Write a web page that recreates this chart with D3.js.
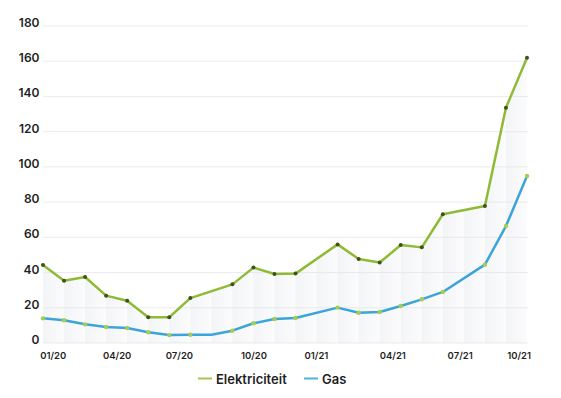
<!DOCTYPE html>
<html>
<head>
<meta charset="utf-8">
<script src="https://cdn.jsdelivr.net/npm/d3@7"></script>
<style>
  body { margin: 0; background: #fff; }
  svg { display: block; font-family: "Inter", "Noto Sans", sans-serif; }
</style>
</head>
<body>
<div id="chart"></div>
<script>
// values per slot (null = no point in that slot)
var elektriciteit = [44.3, 35.4, 37.5, 26.9, 24.0, 14.6, 14.6, 25.5, null, 33.3, 42.8, 39.2, 39.4, null,
                     56.0, 47.7, 45.7, 55.6, 54.3, 73.1, null, 77.8, 133.6, 162.0];
var gas = [14.0, 12.9, 10.6, 9.1, 8.5, 6.1, 4.5, 4.7, 4.7, 7.0, 11.2, 13.6, 14.2, null,
           20.1, 17.2, 17.6, 21.0, 24.8, 29.0, null, 44.5, 66.4, 94.8];
var tickPos = [0.46, 3.5, 6.46, 10.0, 12.97, 16.6, 19.8, 22.6];
var tickLabels = ["01/20", "04/20", "07/20", "10/20", "01/21", "04/21", "07/21", "10/21"];
var yTicks = [0, 20, 40, 60, 80, 100, 120, 140, 160, 180];
var seriesNames = ["Elektriciteit", "Gas"];

var width = 561, height = 398;
var margin = {top: 26, right: 34, bottom: 55, left: 43};

var svg = d3.select("#chart")
  .append("svg")
  .attr("width", width)
  .attr("height", height);

var x = d3.scaleLinear()
  .domain([0, elektriciteit.length - 1])
  .range([margin.left, width - margin.right]);

var y = d3.scaleLinear()
  .domain([0, 180])
  .range([height - margin.bottom, margin.top]);

function points(arr) {
  return arr.map(function (v, i) { return {i: i, v: v}; })
            .filter(function (d) { return d.v !== null; });
}
var elecPts = points(elektriciteit);
var gasPts = points(gas);

// gridlines
svg.append("g")
  .selectAll("line")
  .data(yTicks)
  .enter()
  .append("line")
  .attr("x1", x(0))
  .attr("x2", x(23) + 1)
  .attr("y1", function (d) { return y(d); })
  .attr("y2", function (d) { return y(d); })
  .attr("stroke", "#ececf0")
  .attr("stroke-width", 1);

// y labels
svg.append("g")
  .selectAll("text")
  .data(yTicks)
  .enter()
  .append("text")
  .attr("x", 39.5)
  .attr("y", function (d) { return y(d) - 3.5; })
  .attr("text-anchor", "end")
  .attr("dominant-baseline", "central")
  .attr("font-size", "12px")
  .attr("font-weight", 600)
  .attr("fill", "#1f1f24")
  .text(function (d) { return d; });

// x axis labels
var xAxis = svg.append("g")
  .attr("transform", "translate(0," + (y(0) + 13) + ")")
  .call(d3.axisBottom(x)
    .tickValues(tickPos)
    .tickSize(0)
    .tickFormat(function (d, i) { return tickLabels[i]; }));
xAxis.select(".domain").remove();
xAxis.selectAll("text")
  .attr("dy", "0.32em")
  .attr("y", 0)
  .attr("font-family", "Inter, sans-serif")
  .attr("font-size", "9.5px")
  .attr("font-weight", 600)
  .attr("fill", "#1f1f24");

// light shaded area under the electricity line, in vertical stripes
var defs = svg.append("defs");
var grad = defs.append("linearGradient")
  .attr("id", "stripe")
  .attr("x1", "0").attr("x2", "1").attr("y1", "0").attr("y2", "0");
grad.append("stop").attr("offset", "0%").attr("stop-color", "#f3f4f6");
grad.append("stop").attr("offset", "100%").attr("stop-color", "#fcfcfd");

var area = d3.area()
  .x(function (d) { return x(d.i); })
  .y0(y(0))
  .y1(function (d) { return y(d.v); });

defs.append("clipPath")
  .attr("id", "under")
  .append("path")
  .attr("d", area(elecPts));

svg.append("g")
  .attr("clip-path", "url(#under)")
  .selectAll("rect")
  .data(d3.range(elektriciteit.length - 1))
  .enter()
  .append("rect")
  .attr("x", function (d) { return x(d); })
  .attr("width", x(1) - x(0) + 0.5)
  .attr("y", margin.top)
  .attr("height", y(0) - margin.top)
  .attr("fill", "url(#stripe)");

// redraw grid faintly over the shading
svg.append("g")
  .attr("clip-path", "url(#under)")
  .selectAll("line")
  .data(yTicks)
  .enter()
  .append("line")
  .attr("x1", x(0))
  .attr("x2", x(23))
  .attr("y1", function (d) { return y(d); })
  .attr("y2", function (d) { return y(d); })
  .attr("stroke", "#e8e9ed")
  .attr("stroke-width", 1);

var line = d3.line()
  .x(function (d) { return x(d.i); })
  .y(function (d) { return y(d.v); });

var elecColor = "#8fba35", gasColor = "#3aa4db";

svg.append("path")
  .datum(gasPts)
  .attr("d", line)
  .attr("fill", "none")
  .attr("stroke", gasColor)
  .attr("stroke-width", 2.5)
  .attr("stroke-linejoin", "round");

svg.append("path")
  .datum(elecPts)
  .attr("d", line)
  .attr("fill", "none")
  .attr("stroke", elecColor)
  .attr("stroke-width", 2.5)
  .attr("stroke-linejoin", "round");

// markers
svg.append("g")
  .selectAll("circle")
  .data(gasPts.filter(function (d) { return d.i !== 8; }))
  .enter()
  .append("circle")
  .attr("cx", function (d) { return x(d.i); })
  .attr("cy", function (d) { return y(d.v); })
  .attr("r", 2.2)
  .attr("fill", "#a6cc52");

svg.append("g")
  .selectAll("circle")
  .data(elecPts)
  .enter()
  .append("circle")
  .attr("cx", function (d) { return x(d.i); })
  .attr("cy", function (d) { return y(d.v); })
  .attr("r", 2)
  .attr("fill", "#3e5219");

// legend
var legend = svg.append("g").attr("transform", "translate(0,378.5)");
var legendItems = [
  {name: seriesNames[0], color: "#a3c653", x: 198},
  {name: seriesNames[1], color: "#4fb1e2", x: 304}
];
var li = legend.selectAll("g")
  .data(legendItems)
  .enter()
  .append("g")
  .attr("transform", function (d) { return "translate(" + d.x + ",0)"; });
li.append("line")
  .attr("x1", 0).attr("x2", 14)
  .attr("y1", 0).attr("y2", 0)
  .attr("stroke", function (d) { return d.color; })
  .attr("stroke-width", 2);
li.append("text")
  .attr("x", 18)
  .attr("y", 0)
  .attr("dominant-baseline", "central")
  .attr("font-size", "13px")
  .attr("font-weight", 600)
  .attr("fill", "#1f1f24")
  .text(function (d) { return d.name; });
</script>
</body>
</html>
